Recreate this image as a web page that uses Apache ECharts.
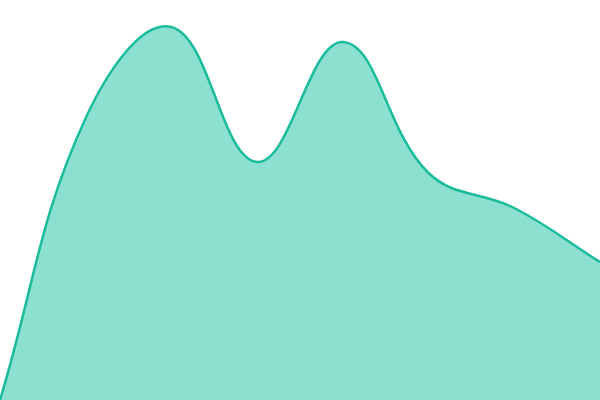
<!DOCTYPE html>
<html>
<head>
<meta charset="utf-8">
<script src="https://cdn.jsdelivr.net/npm/echarts@6/dist/echarts.min.js"></script>
<style>
  html, body { margin: 0; padding: 0; background: #fff; }
  #chart { width: 600px; height: 400px; }
</style>
</head>
<body>
<div id="chart"></div>
<script>
// categories and values
var categories = ['A', 'B', 'C', 'D', 'E', 'F', 'G', 'H'];
var values = [0, 282, 373, 238, 358, 227, 192, 138];

var TENSION = 0.4;

// cardinal spline through the points, control points weighted by segment length
function splinePath(pts) {
  var cps = pts.map(function (p, i) {
    var prev = pts[i - 1] || p;
    var next = pts[i + 1] || p;
    var d01 = Math.hypot(p[0] - prev[0], p[1] - prev[1]);
    var d12 = Math.hypot(next[0] - p[0], next[1] - p[1]);
    var s01 = d01 / (d01 + d12) || 0;
    var s12 = d12 / (d01 + d12) || 0;
    var fa = TENSION * s01, fb = TENSION * s12;
    var vx = next[0] - prev[0], vy = next[1] - prev[1];
    return {
      a: [p[0] - fa * vx, p[1] - fa * vy],
      b: [p[0] + fb * vx, p[1] + fb * vy]
    };
  });
  var d = 'M' + pts[0][0] + ',' + pts[0][1];
  for (var i = 1; i < pts.length; i++) {
    d += 'C' + cps[i - 1].b[0] + ',' + cps[i - 1].b[1] + ' ' +
      cps[i].a[0] + ',' + cps[i].a[1] + ' ' + pts[i][0] + ',' + pts[i][1];
  }
  return d;
}

function renderItem(params, api) {
  if (params.dataIndex !== 0) return null;
  var pts = values.map(function (v, i) { return api.coord([i, v]); });
  var line = splinePath(pts);
  var base0 = api.coord([0, 0]);
  var base1 = api.coord([values.length - 1, 0]);
  var area = line + 'L' + base1[0] + ',' + base1[1] + 'L' + base0[0] + ',' + base0[1] + 'Z';
  return {
    type: 'group',
    children: [
      {
        type: 'path',
        shape: { pathData: area },
        style: { fill: '#8be0cf', stroke: null }
      },
      {
        type: 'path',
        shape: { pathData: line },
        style: { fill: null, stroke: '#1abc9c', lineWidth: 2.5 }
      }
    ]
  };
}

var chart = echarts.init(document.getElementById('chart'));
chart.setOption({
  animation: false,
  grid: { left: 0, right: 0, top: 0, bottom: 0 },
  xAxis: {
    type: 'category',
    data: categories,
    boundaryGap: false,
    show: false
  },
  yAxis: {
    type: 'value',
    min: 0,
    max: 400,
    show: false
  },
  series: [{
    type: 'custom',
    renderItem: renderItem,
    clip: false,
    data: values.map(function (v, i) { return [i, v]; })
  }]
});
</script>
</body>
</html>
